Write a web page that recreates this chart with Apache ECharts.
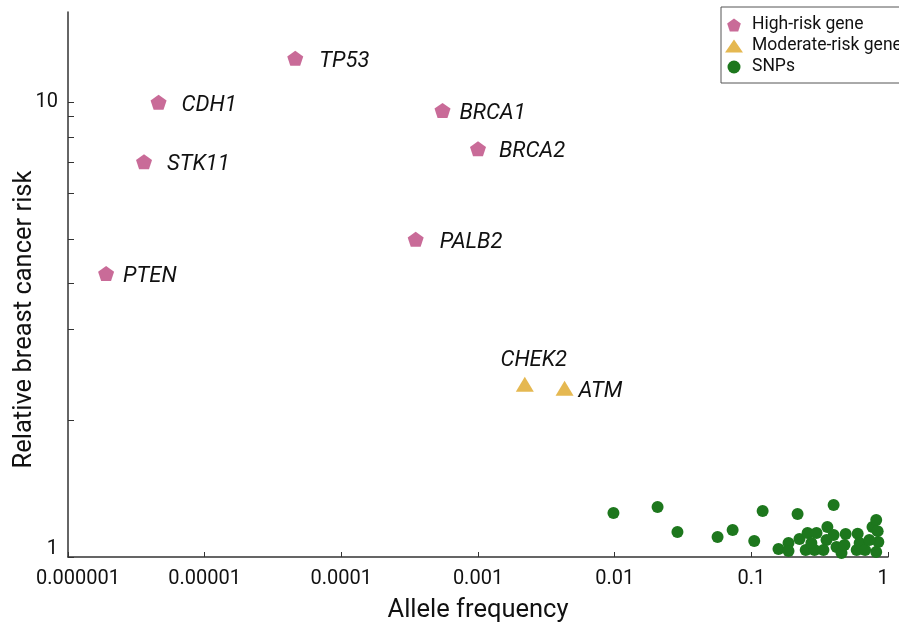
<!DOCTYPE html>
<html>
<head>
<meta charset="utf-8">
<title>Breast cancer risk vs allele frequency</title>
<script src="https://cdn.jsdelivr.net/npm/echarts@6/dist/echarts.min.js"></script>
<style>
  html, body { margin: 0; padding: 0; background: #fff; }
  #chart { width: 899px; height: 624px; }
</style>
</head>
<body>
<div id="chart"></div>
<script>
// 高风险基因
const highRiskGenes = ['TP53', 'CDH1', 'BRCA1', 'STK11', 'BRCA2', 'PALB2', 'PTEN']
const highRiskFreq = [4.6e-5, 4.6e-6, 5.5e-4, 3.6e-6, 1.0e-3, 3.5e-4, 1.9e-6]
const highRiskRisk = [12.5, 10.0, 9.6, 7.4, 7.9, 5.0, 4.2]

// 中等风险基因
const moderateGenes = ['CHEK2', 'ATM']
const moderateFreq = [2.2e-3, 4.3e-3]
const moderateRisk = [2.4, 2.35]

// SNPs
const snpFreq = [0.0098, 0.0206, 0.0288, 0.0566, 0.073, 0.105, 0.121, 0.158, 0.187, 0.187,
  0.218, 0.225, 0.258, 0.25, 0.30, 0.29, 0.36, 0.355, 0.40, 0.40,
  0.42, 0.337, 0.457, 0.49, 0.48, 0.60, 0.59, 0.62, 0.68, 0.77,
  0.82, 0.84, 0.85, 0.82, 0.73, 0.275]
const snpRisk = [1.249, 1.288, 1.135, 1.106, 1.146, 1.084, 1.262, 1.041, 1.073, 1.031,
  1.243, 1.095, 1.129, 1.036, 1.129, 1.036, 1.164, 1.09, 1.301, 1.118,
  1.052, 1.036, 1.02, 1.123, 1.063, 1.125, 1.036, 1.073, 1.036, 1.164,
  1.206, 1.14, 1.079, 1.026, 1.09, 1.073]

// 刻度
const xTickLabels = ['0.000001', '0.00001', '0.0001', '0.001', '0.01', '0.1', '1']
const yLabelValues = [1, 10]
const yTickValues = [1, 2, 3.17, 4, 5, 6.3, 7.4, 8.4, 9.3, 10]

const seriesNames = ['High-risk gene', 'Moderate-risk gene', 'SNPs']
const pentagon = 'path://M0,-1L0.951,-0.309L0.588,0.809L-0.588,0.809L-0.951,-0.309Z'

// 标签微调（像素）
const labelDistance = {TP53: 16, CDH1: 15, BRCA1: 9, STK11: 15, BRCA2: 13, PALB2: 16, PTEN: 9, ATM: 5}

const labelFont = {fontFamily: 'Roboto', fontStyle: 'italic', fontSize: 22, color: '#111'}

const makeGenePoints = (names, freq, risk) => names.map((name, i) => {
  const item = {name, value: [freq[i], risk[i]]}
  if (name === 'CHEK2') {
    item.label = {position: 'top', distance: 5, offset: [9, 0]}
  } else {
    item.label = {position: 'right', distance: labelDistance[name], offset: [0, 3]}
  }
  return item
})

const chart = echarts.init(document.getElementById('chart'))

const option = {
  animation: false,
  textStyle: {fontFamily: 'Roboto', color: '#111'},
  grid: {left: 68, right: 11, top: 12, bottom: 67, containLabel: false, outerBoundsMode: 'none'},
  legend: {
    data: [
      {name: seriesNames[0], icon: pentagon},
      {name: seriesNames[1], icon: 'triangle'},
      {name: seriesNames[2], icon: 'circle'}
    ],
    orient: 'vertical',
    left: 721,
    top: 7,
    padding: [9, 4, 7, 4],
    itemWidth: 18,
    itemHeight: 13,
    itemGap: 3,
    symbolKeepAspect: true,
    borderColor: '#555',
    borderWidth: 1,
    textStyle: {fontFamily: 'Roboto', fontSize: 17.5, color: '#111', padding: [0, 0, 0, 4]}
  },
  xAxis: {
    type: 'log',
    logBase: 10,
    min: 1e-6,
    max: 1,
    interval: 1,
    name: 'Allele frequency',
    nameLocation: 'middle',
    nameGap: 41,
    nameMoveOverlap: false,
    nameTextStyle: {fontFamily: 'Roboto', fontSize: 25.5, color: '#111'},
    axisLine: {lineStyle: {color: '#333', width: 1.5}},
    axisTick: {inside: true, length: 5, lineStyle: {color: '#333'}},
    splitLine: {show: false},
    axisLabel: {
      fontFamily: 'Roboto',
      fontSize: 20,
      color: '#111',
      margin: 12,
      showMinLabel: true,
      showMaxLabel: true,
      formatter: (v) => {
        const idx = Math.round(Math.log10(v)) + 6
        if (idx === 0) return '{first|' + xTickLabels[idx] + '}'
        if (idx === xTickLabels.length - 1) return '{last|' + xTickLabels[idx] + '}'
        return xTickLabels[idx]
      },
      rich: {
        first: {fontFamily: 'Roboto', fontSize: 20, color: '#111', padding: [0, 0, 0, 20]},
        last: {fontFamily: 'Roboto', fontSize: 20, color: '#111', padding: [0, 10, 0, 0]}
      }
    }
  },
  yAxis: {
    type: 'log',
    logBase: 10,
    min: 1,
    max: 15.8,
    interval: 1,
    name: 'Relative breast cancer risk',
    nameLocation: 'middle',
    nameGap: 30,
    nameMoveOverlap: false,
    nameTextStyle: {fontFamily: 'Roboto', fontSize: 25.5, color: '#111', padding: [0, 70, 0, 0]},
    axisLine: {lineStyle: {color: '#333', width: 1.5}},
    axisTick: {inside: true, length: 6, customValues: yTickValues, lineStyle: {color: '#333'}},
    splitLine: {show: false},
    axisLabel: {
      fontFamily: 'Roboto',
      fontSize: 20,
      color: '#111',
      margin: 10,
      customValues: yLabelValues,
      formatter: (v) => (Math.round(v) === 1 ? '{low|1}' : String(Math.round(v))),
      rich: {
        low: {fontFamily: 'Roboto', fontSize: 20, color: '#111', padding: [0, 0, 16, 0]}
      }
    }
  },
  series: [
    {
      name: seriesNames[0],
      type: 'scatter',
      symbol: pentagon,
      symbolSize: [16, 15],
      itemStyle: {color: '#c96b98', opacity: 1},
      label: {show: true, formatter: '{b}', ...labelFont},
      data: makeGenePoints(highRiskGenes, highRiskFreq, highRiskRisk)
    },
    {
      name: seriesNames[1],
      type: 'scatter',
      symbol: 'triangle',
      symbolSize: [18, 15],
      itemStyle: {color: '#e5b851', opacity: 1},
      label: {show: true, formatter: '{b}', ...labelFont},
      data: makeGenePoints(moderateGenes, moderateFreq, moderateRisk)
    },
    {
      name: seriesNames[2],
      type: 'scatter',
      symbol: 'circle',
      symbolSize: 12,
      itemStyle: {color: '#1d771d', opacity: 1},
      data: snpFreq.map((f, i) => [f, snpRisk[i]])
    }
  ]
}

chart.setOption(option)
</script>
</body>
</html>
